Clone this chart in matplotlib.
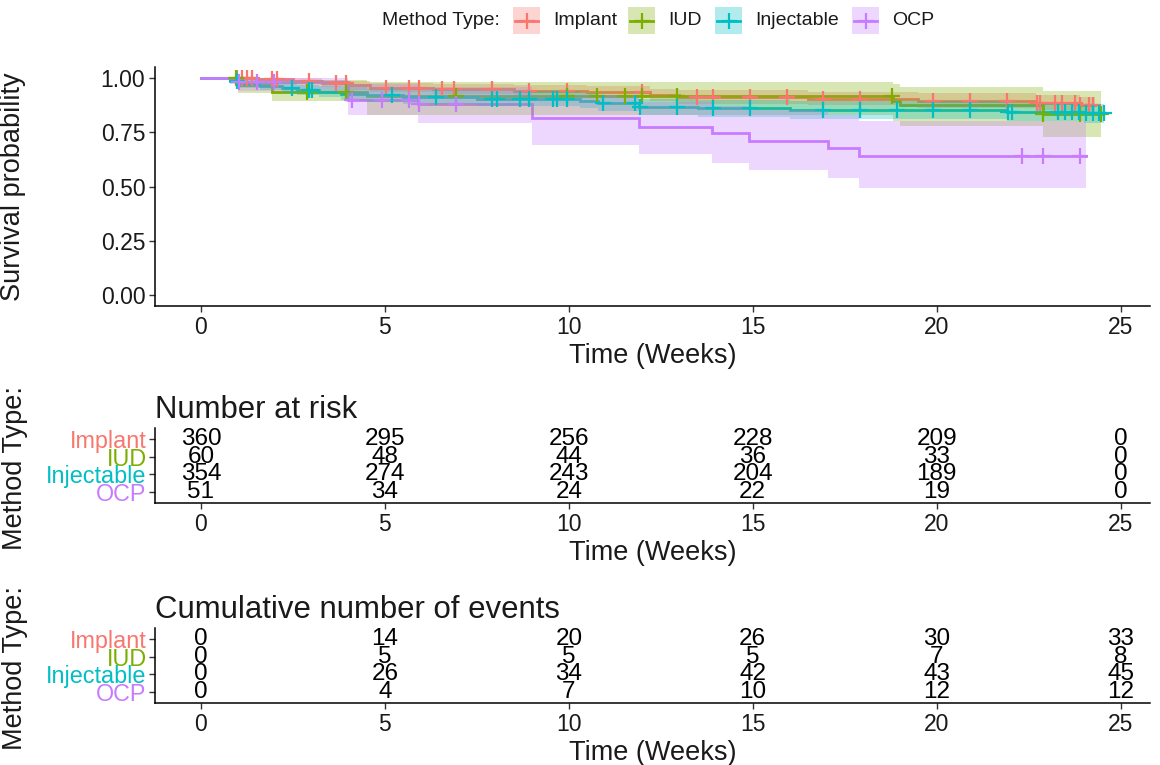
import numpy as np
import matplotlib
matplotlib.use("Agg")
import matplotlib.pyplot as plt
from matplotlib.patches import Rectangle

plt.rcParams['font.family'] = ['Liberation Sans', 'DejaVu Sans']

# ---------------- data ----------------
groups = ["Implant", "IUD", "Injectable", "OCP"]
colors = ["#F8766D", "#7CAE00", "#00BFC4", "#C77CFF"]

# Kaplan-Meier step functions (event times, survival after each step)
implant_t = [0, 1.5, 2.5, 3.3, 4.0, 4.6, 6.3, 8.5, 10.5, 12.2, 13.0, 16.5, 19.5, 22.7, 23.9]
implant_s = [1.0, 0.993, 0.985, 0.975, 0.965, 0.955, 0.95, 0.94, 0.935, 0.922, 0.912, 0.905, 0.895, 0.885, 0.875]
implant_lo = [1.0, 0.984, 0.972, 0.958, 0.946, 0.933, 0.927, 0.915, 0.909, 0.894, 0.882, 0.874, 0.862, 0.85, 0.838]
implant_hi = [1.0, 1.0, 0.998, 0.992, 0.985, 0.977, 0.973, 0.966, 0.962, 0.951, 0.943, 0.937, 0.929, 0.921, 0.913]
implant_end = 24.3
implant_cens = [0.98, 1.12, 1.25, 1.39, 1.93, 2.07, 2.94, 3.68, 3.95, 5.04, 5.66, 5.93, 6.54,
                6.89, 7.92, 8.93, 9.94, 11.98, 13.48, 13.92, 14.92, 15.93, 16.91, 17.92, 19.91,
                20.92, 21.92, 22.74, 22.82, 23.23, 23.42, 23.77, 23.91, 24.13, 24.24]

iud_t = [0, 1.0, 1.93, 4.5, 18.8, 19.0, 22.9]
iud_s = [1.0, 0.967, 0.933, 0.915, 0.893, 0.875, 0.835]
iud_lo = [1.0, 0.93, 0.895, 0.83, 0.80, 0.78, 0.73]
iud_hi = [1.0, 1.0, 0.99, 0.98, 0.97, 0.96, 0.94]
iud_end = 24.46
iud_cens = [0.95, 2.89, 3.95, 6.94, 9.94, 10.76, 11.52, 11.98, 12.94, 18.79, 22.9, 23.91, 24.46]

inj_t = [0, 0.8, 1.0, 1.6, 2.2, 2.6, 3.2, 3.8, 4.5, 5.5, 7.5, 10.3, 10.8, 11.9, 13.5, 16.0, 21.9, 24.0]
inj_s = [1.0, 0.985, 0.972, 0.962, 0.952, 0.944, 0.936, 0.928, 0.92, 0.912, 0.905, 0.895,
         0.885, 0.866, 0.86, 0.852, 0.843, 0.836]
inj_lo = [1.0, 0.972, 0.955, 0.942, 0.930, 0.920, 0.910, 0.900, 0.890, 0.880, 0.872, 0.860,
          0.849, 0.828, 0.821, 0.812, 0.802, 0.793]
inj_hi = [1.0, 0.998, 0.99, 0.982, 0.975, 0.968, 0.962, 0.956, 0.95, 0.944, 0.938, 0.93,
          0.922, 0.905, 0.9, 0.893, 0.886, 0.881]
inj_end = 24.55
inj_cens = [0.98, 2.48, 2.94, 3.02, 5.2, 6.4, 7.92, 8.06, 8.66, 8.93, 9.56, 9.69, 9.94, 10.92,
            11.79, 11.93, 12.94, 13.92, 14.92, 16.91, 17.92, 18.93, 19.91, 20.92, 21.95, 22.06,
            23.31, 23.5, 23.69, 23.86, 24.05, 24.24, 24.4, 24.54]

ocp_t = [0, 1.0, 4.0, 5.9, 9.0, 11.9, 13.9, 14.9, 17.05, 17.9]
ocp_s = [1.0, 0.98, 0.90, 0.88, 0.815, 0.773, 0.745, 0.708, 0.676, 0.64]
ocp_lo = [1.0, 0.94, 0.83, 0.79, 0.69, 0.65, 0.61, 0.575, 0.54, 0.495]
ocp_hi = [1.0, 1.0, 0.97, 0.96, 0.92, 0.89, 0.87, 0.85, 0.83, 0.80]
ocp_end = 24.05
ocp_cens = [1.03, 1.53, 1.99, 4.11, 4.93, 5.66, 5.94, 6.94, 22.33, 22.9, 23.9]

curves = [
    (implant_t, implant_s, implant_lo, implant_hi, implant_end, implant_cens),
    (iud_t, iud_s, iud_lo, iud_hi, iud_end, iud_cens),
    (inj_t, inj_s, inj_lo, inj_hi, inj_end, inj_cens),
    (ocp_t, ocp_s, ocp_lo, ocp_hi, ocp_end, ocp_cens),
]

table_times = [0, 5, 10, 15, 20, 25]
at_risk = {
    "Implant": [360, 295, 256, 228, 209, 0],
    "IUD": [60, 48, 44, 36, 33, 0],
    "Injectable": [354, 274, 243, 204, 189, 0],
    "OCP": [51, 34, 24, 22, 19, 0],
}
cum_events = {
    "Implant": [0, 14, 20, 26, 30, 33],
    "IUD": [0, 5, 5, 5, 7, 8],
    "Injectable": [0, 26, 34, 42, 43, 45],
    "OCP": [0, 4, 7, 10, 12, 12],
}

x_ticks = [0, 5, 10, 15, 20, 25]
y_ticks = [0.0, 0.25, 0.5, 0.75, 1.0]
y_ticklabels = ["0.00", "0.25", "0.50", "0.75", "1.00"]

# ---------------- styling ----------------
W, H = 1160, 765
TICK_FS = 16.5
AXTITLE_FS = 19.5
TAB_TITLE_FS = 22.4
TAB_NUM_FS = 17.5
ROW_FS = 16.8
LEG_FS = 14
TXT = "#1a1a1a"
XLIM = (-1.25, 25.8)

fig = plt.figure(figsize=(W / 100, H / 100), dpi=100)


def style_axes(ax):
    for side in ("top", "right"):
        ax.spines[side].set_visible(False)
    for side in ("left", "bottom"):
        ax.spines[side].set_linewidth(1.1)
        ax.spines[side].set_color("black")
    ax.tick_params(axis="both", direction="out", length=4, width=1.0, color="#333333",
                   labelsize=TICK_FS, labelcolor=TXT, pad=3)


def fx(px):
    return px / W


def fy(py):
    return 1 - py / H


AX_LEFT, AX_RIGHT = 155, 1150
YLABEL_X = (26 - AX_LEFT) / (AX_RIGHT - AX_LEFT)

# ---------------- survival curves ----------------
ax = fig.add_axes([fx(AX_LEFT), fy(306), fx(AX_RIGHT) - fx(AX_LEFT), fy(67) - fy(306)])
style_axes(ax)

for (t, s, lo, hi, end, cens), c in zip(curves, colors):
    tt = np.append(t, end)
    ss = np.append(s, s[-1])
    ax.step(tt, ss, where="post", color=c, lw=2.0, zorder=2, solid_joinstyle="miter")

for (t, s, lo, hi, end, cens), c in zip(curves, colors):
    tt = np.append(t, end)
    ll = np.append(lo, lo[-1])
    uu = np.append(hi, hi[-1])
    ax.fill_between(tt, ll, uu, step="post", color=c, alpha=0.3, lw=0, zorder=3)

for (t, s, lo, hi, end, cens), c in zip(curves, colors):
    idx = np.searchsorted(t, cens, side="right") - 1
    sv = np.asarray(s)[idx]
    ax.plot(cens, sv, linestyle="none", marker="+", ms=11, mew=1.6, color=c, zorder=4)

ax.set_xlim(*XLIM)
ax.set_ylim(-0.05, 1.05)
ax.set_xticks(x_ticks)
ax.set_yticks(y_ticks)
ax.set_yticklabels(y_ticklabels)
ax.set_xlabel("Time (Weeks)", fontsize=AXTITLE_FS, color=TXT, labelpad=3)
ax.set_ylabel("Survival probability", fontsize=AXTITLE_FS, color=TXT)
ax.yaxis.set_label_coords(YLABEL_X, 0.5)


# ---------------- tables ----------------
def draw_table(rect, title, values):
    tax = fig.add_axes(rect)
    style_axes(tax)
    n = len(groups)
    for i, g in enumerate(groups):
        for xt, v in zip(table_times, values[g]):
            tax.text(xt, i + 1, str(v), ha="center", va="center", fontsize=TAB_NUM_FS, color="black")
    tax.set_xlim(*XLIM)
    tax.set_ylim(n + 0.6, 0.4)
    tax.set_yticks(range(1, n + 1))
    tax.set_yticklabels(groups, fontsize=ROW_FS)
    for lab, c in zip(tax.get_yticklabels(), colors):
        lab.set_color(c)
    tax.tick_params(axis="y", pad=2)
    tax.set_xticks(x_ticks)
    tax.set_xlabel("Time (Weeks)", fontsize=AXTITLE_FS, color=TXT, labelpad=3)
    tax.set_ylabel("Method Type:", fontsize=AXTITLE_FS, color=TXT)
    tax.yaxis.set_label_coords(YLABEL_X + 0.002, 0.47)
    tax.set_title(title, loc="left", fontsize=TAB_TITLE_FS, color=TXT, pad=7)
    return tax


draw_table([fx(AX_LEFT), fy(503), fx(AX_RIGHT) - fx(AX_LEFT), fy(428) - fy(503)],
           "Number at risk", at_risk)
draw_table([fx(AX_LEFT), fy(703), fx(AX_RIGHT) - fx(AX_LEFT), fy(628) - fy(703)],
           "Cumulative number of events", cum_events)

# ---------------- legend ----------------
lax = fig.add_axes([0, 0, 1, 1])
lax.set_xlim(0, W)
lax.set_ylim(H, 0)
lax.axis("off")
lax.text(382, 20, "Method Type:", fontsize=LEG_FS, color=TXT, ha="left", va="center")
key_x = [513, 628, 715, 852]
for g, c, kx in zip(groups, colors, key_x):
    lax.add_patch(Rectangle((kx, 7), 27, 27, facecolor=c, alpha=0.3, lw=0))
    lax.plot([kx + 2, kx + 25], [20.5, 20.5], color=c, lw=2.0)
    lax.plot([kx + 13.5], [20.5], marker="+", ms=11, mew=1.6, color=c)
    lax.text(kx + 40, 20, g, fontsize=LEG_FS, color=TXT, ha="left", va="center")

fig.savefig("out.png", dpi=100)
